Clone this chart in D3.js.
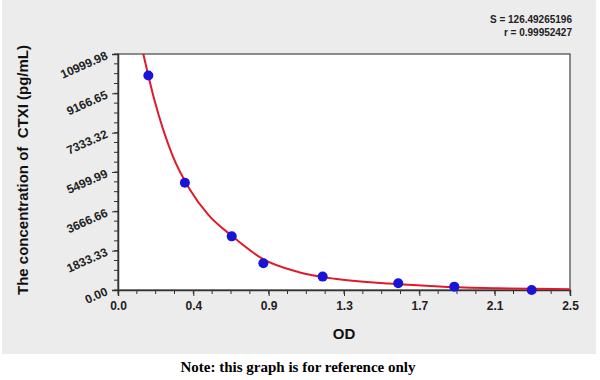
<!DOCTYPE html>
<html><head><meta charset="utf-8">
<script src="https://cdn.jsdelivr.net/npm/d3@7"></script>
<style>html,body{margin:0;padding:0;background:#fff;}svg{display:block;}</style>
</head><body>
<svg id="c" width="600" height="380"></svg>
<script>
// Data
const odValues   = [0.168, 0.37, 0.629, 0.804, 1.132, 1.55, 1.86, 2.288];
const concValues = [10000, 5000, 2500, 1250, 625, 312, 156, 0];
// fitted curve
const fitOD   = [0.14, 0.2, 0.3, 0.4, 0.5, 0.63, 0.8, 1.0, 1.2, 1.5, 1.8, 2.1, 2.5];
const fitConc = [11000, 8900, 6300, 4650, 3500, 2520, 1450, 830, 520, 300, 150, 80, 40];
const xTickValues = [0, 2.5/6, 5/6, 7.5/6, 10/6, 12.5/6, 2.5];
const xTickLabels = ["0.0", "0.4", "0.9", "1.3", "1.7", "2.1", "2.5"];
const yTickValues = [0, 1833.33, 3666.66, 5499.99, 7333.32, 9166.65, 10999.98];
const yTickLabels = ["0.00", "1833.33", "3666.66", "5499.99", "7333.32", "9166.65", "10999.98"];
const statLines = ["S = 126.49265196", "r = 0.99952427"];

const svg = d3.select("#c");
const L = 118, R = 570, T = 54, B = 290;
const x = d3.scaleLinear().domain([0, 2.5]).range([L, R]);
const y = d3.scaleLinear().domain([0, 10999.98]).range([B, T]);

// background
svg.append("rect").attr("x", 2).attr("y", 0).attr("width", 594).attr("height", 354).attr("fill", "#ececec");
svg.append("rect").attr("x", L).attr("y", T).attr("width", R - L).attr("height", B - T).attr("fill", "#ffffff")
  .attr("stroke", "#444").attr("stroke-width", 1.2);

// minor ticks
const ax = "#333";
const xMinor = d3.range(0, 24 + 1).map(i => i * 2.5 / 24);
svg.append("g").selectAll("line").data(xMinor).join("line")
  .attr("x1", d => x(d)).attr("x2", d => x(d)).attr("y1", B).attr("y2", B + 4)
  .attr("stroke", ax).attr("stroke-width", 1);
const yMinor = d3.range(0, 24 + 1).map(i => i * 10999.98 / 24);
svg.append("g").selectAll("line").data(yMinor).join("line")
  .attr("y1", d => y(d)).attr("y2", d => y(d)).attr("x1", L).attr("x2", L - 4)
  .attr("stroke", ax).attr("stroke-width", 1);

// axes
const xAxis = d3.axisBottom(x).tickValues(xTickValues).tickSize(6).tickPadding(5)
  .tickFormat((d, i) => xTickLabels[i]);
const gx = svg.append("g").attr("transform", `translate(0,${B})`).call(xAxis);
gx.select(".domain").attr("stroke", ax).attr("stroke-width", 1.5);
gx.selectAll(".tick line").attr("stroke", ax);
gx.selectAll(".tick text").attr("font-family", "Liberation Sans, Arial, sans-serif")
  .attr("font-size", 12).attr("font-weight", "bold").attr("fill", "#222");

const yAxis = d3.axisLeft(y).tickValues(yTickValues).tickSize(6).tickPadding(4)
  .tickFormat((d, i) => yTickLabels[i]);
const gy = svg.append("g").attr("transform", `translate(${L},0)`).call(yAxis);
gy.select(".domain").attr("stroke", ax).attr("stroke-width", 1.5);
gy.selectAll(".tick line").attr("stroke", ax);
gy.selectAll(".tick text").attr("font-family", "Liberation Sans, Arial, sans-serif")
  .attr("font-size", 12).attr("font-weight", "bold").attr("fill", "#222")
  .attr("x", -9).attr("dy", "0.32em")
  .attr("transform", "rotate(-24,-9,5)");

// curve
svg.append("clipPath").attr("id", "pc").append("rect")
  .attr("x", L).attr("y", T - 1).attr("width", R - L).attr("height", B - T + 1);
const line = d3.line().x(d => x(d[0])).y(d => y(d[1])).curve(d3.curveMonotoneX);
svg.append("path").datum(fitOD.map((d, i) => [d, fitConc[i]]))
  .attr("d", line).attr("fill", "none").attr("stroke", "#e01a2a").attr("stroke-width", 2)
  .attr("clip-path", "url(#pc)");

// points
svg.append("g").selectAll("circle").data(odValues.map((d, i) => [d, concValues[i]])).join("circle")
  .attr("cx", d => x(d[0])).attr("cy", d => y(d[1])).attr("r", 5).attr("fill", "#1a14d8");

// labels
svg.append("text").attr("x", 344).attr("y", 339).attr("text-anchor", "middle")
  .attr("font-family", "Liberation Sans, Arial, sans-serif").attr("font-size", 15).attr("font-weight", "bold")
  .attr("fill", "#111").text("OD");
svg.append("text").attr("transform", "translate(28,170) rotate(-90)").attr("text-anchor", "middle")
  .attr("font-family", "Liberation Sans, Arial, sans-serif").attr("font-size", 15).attr("font-weight", "bold")
  .attr("fill", "#111").attr("xml:space", "preserve").style("white-space", "pre")
  .text("The concentration of  CTXI (pg/mL)");
svg.append("g").selectAll("text").data(statLines).join("text")
  .attr("x", 572).attr("y", (d, i) => 23 + i * 13).attr("text-anchor", "end")
  .attr("font-family", "Liberation Sans, Arial, sans-serif").attr("font-size", 10).attr("font-weight", "bold")
  .attr("fill", "#222").text(d => d);
svg.append("text").attr("x", 298).attr("y", 372).attr("text-anchor", "middle")
  .attr("font-family", "Liberation Serif, Times New Roman, serif").attr("font-size", 15).attr("font-weight", "bold")
  .attr("fill", "#000").text("Note: this graph is for reference only");
</script>
</body></html>
